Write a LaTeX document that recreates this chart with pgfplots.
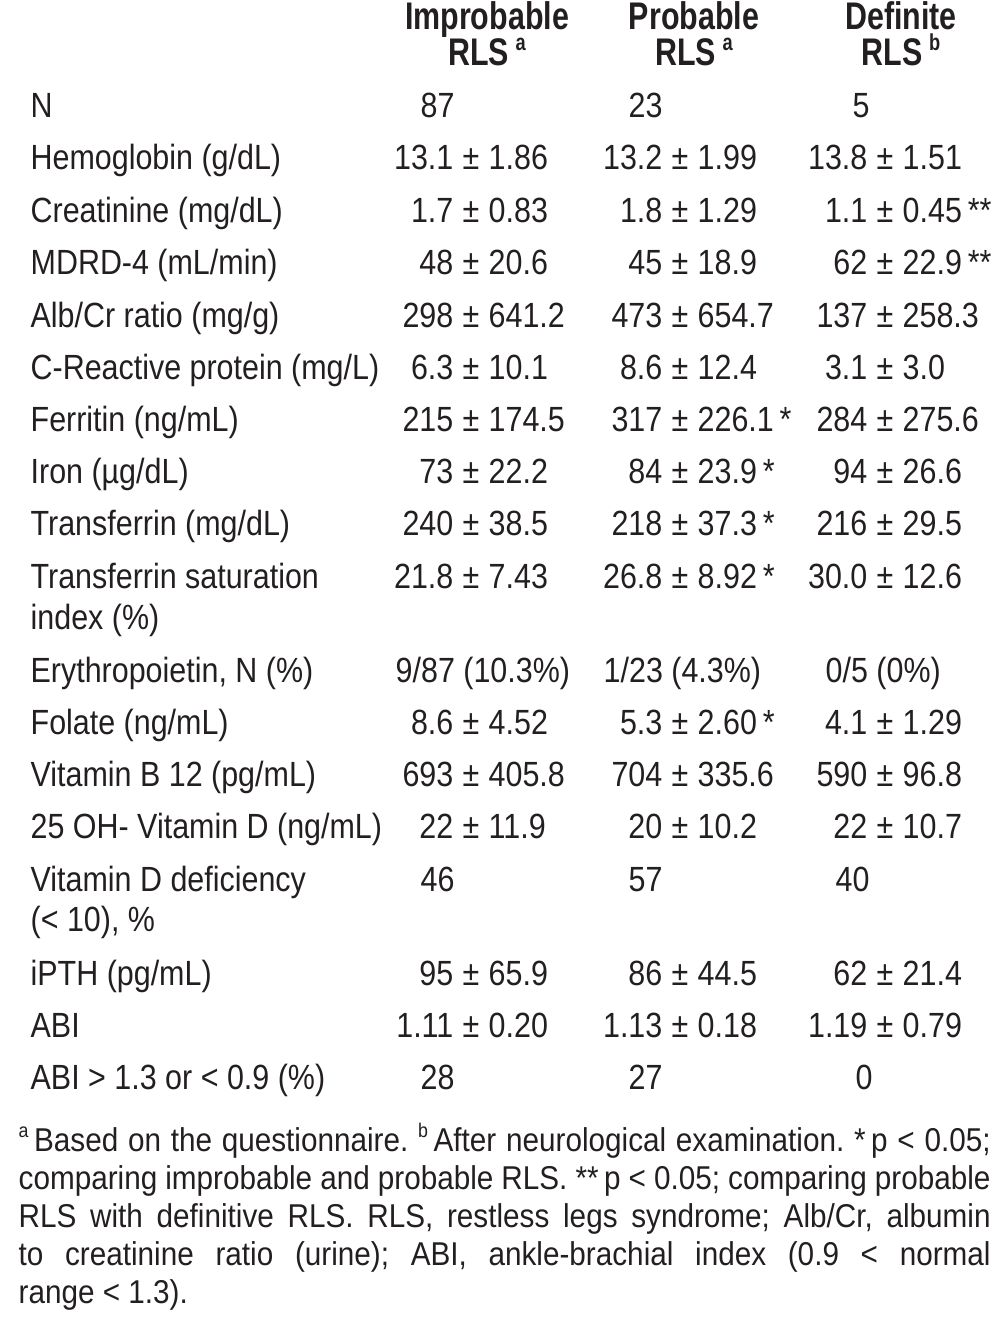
\documentclass[border=0pt]{standalone}
\usepackage{fontspec}
\usepackage{xcolor}
\usepackage{pgfplots}
\pgfplotsset{compat=1.18}
\setmainfont{Liberation Sans}[FakeStretch=0.87]
\newfontfamily\hdrfont{Liberation Sans}[FakeStretch=0.79]
\newfontfamily\notefont{Liberation Sans}[FakeStretch=0.9]
\definecolor{ink}{RGB}{35,31,32}
\frenchspacing

% 1 px of the reference = 0.3pt
\newcommand{\bodyf}{\fontsize{10.5pt}{12.3pt}\selectfont}
\newcommand{\hdrf}{\hdrfont\bfseries\fontsize{11.55pt}{10.8pt}\selectfont}
\newcommand{\notef}{\notefont\fontsize{9.9pt}{11.4pt}\selectfont}
\newcommand{\sups}[1]{\raisebox{0.75ex}{\fontsize{0.6em}{1em}\selectfont #1}}

% value "a ± b" aligned on the ± sign: x of ±, baseline y, left, right
\newcommand{\pmc}[4]{%
  \node[cell, anchor=base east, xshift=-5.1pt] at (axis cs:#1,#2) {#3};
  \node[cell, anchor=base] at (axis cs:#1,#2) {±};
  \node[cell, anchor=base west, xshift=5.1pt] at (axis cs:#1,#2) {#4};
}
\newcommand{\txt}[3]{\node[cell, anchor=base west] at (axis cs:#1,#2) {#3};}

\begin{document}
\begin{tikzpicture}[
    cell/.style={font=\bodyf, inner sep=0pt, text=ink},
    head/.style={font=\hdrf, inner sep=0pt, text=ink, align=center, anchor=base},
    note/.style={font=\notef, inner sep=0pt, text=ink, anchor=base west},
]
\begin{axis}[
    at={(0,0)}, anchor=south west,
    scale only axis,
    width=297.9pt, height=401.4pt,
    xmin=0, xmax=993, ymin=0, ymax=1338,
    y dir=reverse,
    hide axis,
    clip=false,
]
% header (base = baseline of the second line)
\node[head] at (axis cs:487,66) {Improbable\\RLS\,\sups{a}};
\node[head] at (axis cs:694,66) {Probable\\RLS\,\sups{a}};
\node[head] at (axis cs:901,66) {Definite\\RLS\,\sups{b}};

% body
\txt{30}{117}{N}
\txt{420}{117}{87}
\txt{628}{117}{23}
\txt{852}{117}{5}

\txt{30}{169}{Hemoglobin (g/dL)}
\pmc{471}{169}{13.1}{1.86}
\pmc{680}{169}{13.2}{1.99}
\pmc{885}{169}{13.8}{1.51}

\txt{30}{222}{Creatinine (mg/dL)}
\pmc{471}{222}{1.7}{0.83}
\pmc{680}{222}{1.8}{1.29}
\pmc{885}{222}{1.1}{0.45\,**}

\txt{30}{274}{MDRD-4 (mL/min)}
\pmc{471}{274}{48}{20.6}
\pmc{680}{274}{45}{18.9}
\pmc{885}{274}{62}{22.9\,**}

\txt{30}{327}{Alb/Cr ratio (mg/g)}
\pmc{471}{327}{298}{641.2}
\pmc{680}{327}{473}{654.7}
\pmc{885}{327}{137}{258.3}

\txt{30}{379}{C-Reactive protein (mg/L)}
\pmc{471}{379}{6.3}{10.1}
\pmc{680}{379}{8.6}{12.4}
\pmc{885}{379}{3.1}{3.0}

\txt{30}{431}{Ferritin (ng/mL)}
\pmc{471}{431}{215}{174.5}
\pmc{680}{431}{317}{226.1\,*}
\pmc{885}{431}{284}{275.6}

\txt{30}{483}{Iron (µg/dL)}
\pmc{471}{483}{73}{22.2}
\pmc{680}{483}{84}{23.9\,*}
\pmc{885}{483}{94}{26.6}

\txt{30}{535}{Transferrin (mg/dL)}
\pmc{471}{535}{240}{38.5}
\pmc{680}{535}{218}{37.3\,*}
\pmc{885}{535}{216}{29.5}

\txt{30}{588}{Transferrin saturation}
\txt{30}{629}{index (\%)}
\pmc{471}{588}{21.8}{7.43}
\pmc{680}{588}{26.8}{8.92\,*}
\pmc{885}{588}{30.0}{12.6}

\txt{30}{682}{Erythropoietin, N (\%)}
\txt{395}{682}{9/87 (10.3\%)}
\txt{603}{682}{1/23 (4.3\%)}
\txt{825}{682}{0/5 (0\%)}

\txt{30}{734}{Folate (ng/mL)}
\pmc{471}{734}{8.6}{4.52}
\pmc{680}{734}{5.3}{2.60\,*}
\pmc{885}{734}{4.1}{1.29}

\txt{30}{786}{Vitamin B 12 (pg/mL)}
\pmc{471}{786}{693}{405.8}
\pmc{680}{786}{704}{335.6}
\pmc{885}{786}{590}{96.8}

\txt{30}{838}{25 OH- Vitamin D (ng/mL)}
\pmc{471}{838}{22}{11.9}
\pmc{680}{838}{20}{10.2}
\pmc{885}{838}{22}{10.7}

\txt{30}{891}{Vitamin D deficiency}
\txt{30}{931}{(< 10), \%}
\txt{420}{891}{46}
\txt{628}{891}{57}
\txt{835}{891}{40}

\txt{30}{985}{iPTH (pg/mL)}
\pmc{471}{985}{95}{65.9}
\pmc{680}{985}{86}{44.5}
\pmc{885}{985}{62}{21.4}

\txt{30}{1037}{ABI}
\pmc{471}{1037}{1.11}{0.20}
\pmc{680}{1037}{1.13}{0.18}
\pmc{885}{1037}{1.19}{0.79}

\txt{30}{1089}{ABI > 1.3 or < 0.9 (\%)}
\txt{420}{1089}{28}
\txt{628}{1089}{27}
\txt{855}{1089}{0}

% footnote
\node[note] at (axis cs:18,1151)
  {\makebox[291.6pt][s]{\sups{a}\,Based on the questionnaire. \sups{b}\,After neurological examination. *\,p < 0.05;}};
\node[note] at (axis cs:18,1189)
  {\makebox[291.6pt][s]{comparing improbable and probable RLS. **\,p < 0.05; comparing probable}};
\node[note] at (axis cs:18,1227)
  {\makebox[291.6pt][s]{RLS with definitive RLS. RLS, restless legs syndrome; Alb/Cr, albumin}};
\node[note] at (axis cs:18,1265)
  {\makebox[291.6pt][s]{to creatinine ratio (urine); ABI, ankle-brachial index (0.9 < normal}};
\node[note] at (axis cs:18,1303)
  {range < 1.3).};
\end{axis}
\pgfresetboundingbox
\path (0,0) rectangle (297.9pt,401.4pt);
\end{tikzpicture}
\end{document}
